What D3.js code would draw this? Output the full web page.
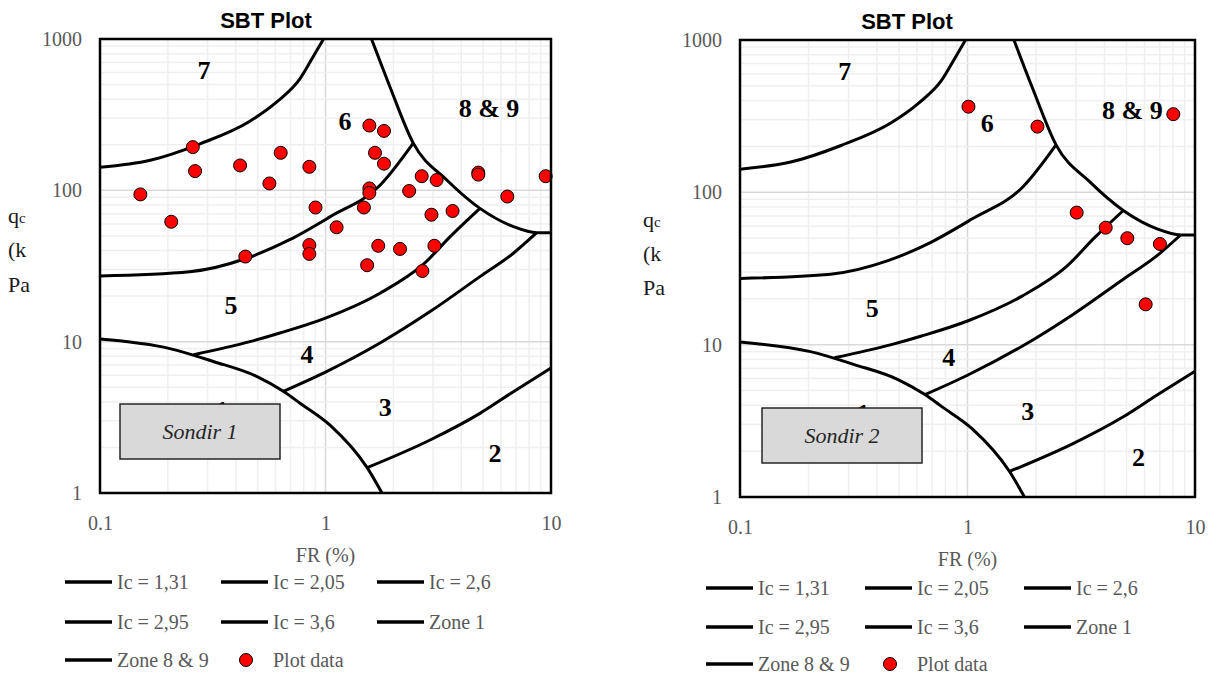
<!DOCTYPE html>
<html>
<head>
<meta charset="utf-8">
<script src="https://cdn.jsdelivr.net/npm/d3@7/dist/d3.min.js"></script>
<style>
  body { margin: 0; background: #fff; }
  svg { display: block; }
</style>
</head>
<body>
<div id="chart"></div>
<script>
// Axis ticks
const xTicks = [0.1, 1, 10];
const yTicks = [1, 10, 100, 1000];

// SBT boundary curves as [FR %, qc]
const ic131 = [[0.1, 142], [0.167, 158], [0.278, 203], [0.46, 285], [0.61, 385], [0.77, 545], [0.88, 760], [0.98, 1000]];
const ic205 = [[0.1, 27.2], [0.25, 29], [0.447, 35.6], [0.69, 47], [1.05, 67], [1.745, 108], [2.45, 205]];
const ic26 = [[0.26, 8.2], [0.462, 10], [0.628, 11.4], [1.0, 14.3], [1.745, 20.9], [2.72, 32.5], [3.6, 50], [4.84, 76]];
const ic295 = [[0.65, 4.7], [1.0, 6.3], [1.745, 9.8], [2.91, 15.8], [4.84, 26.9], [6.81, 38.4], [8.64, 52.5]];
const ic36 = [[1.53, 1.47], [2.91, 2.24], [4.84, 3.36], [6.81, 4.67], [10, 6.7]];
const zone1 = [[0.1, 10.4], [0.204, 9.0], [0.318, 7.4], [0.495, 5.9], [0.65, 4.7], [0.771, 3.92], [1.05, 2.8], [1.53, 1.47], [1.78, 1.0]];
const zone89 = [[1.6, 1000], [1.93, 484], [2.45, 205], [3.45, 117], [4.84, 76], [6.81, 57.6], [8.64, 52.5], [10, 52.5]];

const seriesNames = ['Ic = 1,31', 'Ic = 2,05', 'Ic = 2,6', 'Ic = 2,95', 'Ic = 3,6', 'Zone 1', 'Zone 8 & 9', 'Plot data'];
const curves = [ic131, ic205, ic26, ic295, ic36, zone1, zone89];

// zone numbers [text, FR, qc]
const zoneLabels = [['1', 0.347, 3.54], ['2', 5.65, 1.84], ['3', 1.84, 3.7], ['4', 0.828, 8.29],
  ['5', 0.381, 17.5], ['6', 1.22, 287], ['7', 0.289, 625], ['8 & 9', 5.31, 350]];

// measured points [FR %, qc]
const sondir1 = [[0.151, 94], [0.207, 62], [0.258, 193], [0.264, 134], [0.418, 146], [0.441, 36.5],
  [0.564, 111], [0.633, 177], [0.848, 143], [0.903, 77], [0.848, 43.5], [0.848, 38], [1.12, 57],
  [1.48, 77], [1.565, 268], [1.658, 177], [1.817, 247], [1.817, 150], [1.565, 103], [1.565, 96],
  [1.53, 32], [1.714, 43], [2.14, 41], [2.35, 99], [2.67, 124], [2.69, 29.3], [2.95, 69], [3.04, 43],
  [3.11, 117], [3.66, 73], [4.76, 131], [4.76, 127], [6.4, 91], [9.47, 124]];
const sondir2 = [[1.01, 365], [2.03, 270], [8.03, 326], [3.02, 73.6], [4.05, 58.6], [5.04, 50], [7.01, 45.8], [6.07, 18.4]];

const serif = "'Liberation Serif', 'Times New Roman', serif";
const sans = "'Liberation Sans', Arial, sans-serif";

const svg = d3.select('#chart').append('svg')
  .attr('width', 1215)
  .attr('height', 677);

const charts = [
  { id: 'c1', left: 100, top: 39, right: 551, bottom: 493, titleX: 266, titleY: 28,
    yTitleX: 8, yTitleY: [223, 257, 292], legendX: [65, 221, 377], legendY: [582, 622, 660],
    box: [120, 404, 160, 55], name: 'Sondir 1', points: sondir1 },
  { id: 'c2', left: 740, top: 40, right: 1195, bottom: 497, titleX: 907, titleY: 29,
    yTitleX: 643, yTitleY: [227, 261, 295], legendX: [706, 865, 1024], legendY: [588, 627, 664],
    box: [762, 408, 160, 55], name: 'Sondir 2', points: sondir2 }
];

charts.forEach(c => drawChart(c));

function drawChart(c) {
  const x = d3.scaleLog().domain([0.1, 10]).range([c.left, c.right]);
  const y = d3.scaleLog().domain([1, 1000]).range([c.bottom, c.top]);
  const g = svg.append('g');

  // grid lines (minor then major)
  const gridX = [], gridY = [];
  [0.1, 1].forEach(d => { for (let m = 1; m < 10; m++) gridX.push(d * m); });
  [1, 10, 100].forEach(d => { for (let m = 1; m < 10; m++) gridY.push(d * m); });
  g.append('g').selectAll('line').data(gridX).join('line')
    .attr('x1', d => x(d)).attr('x2', d => x(d))
    .attr('y1', c.top).attr('y2', c.bottom)
    .attr('stroke', (d, i) => i % 9 === 0 ? '#d9d9d9' : '#efefef')
    .attr('stroke-width', 1.5);
  g.append('g').selectAll('line').data(gridY).join('line')
    .attr('x1', c.left).attr('x2', c.right)
    .attr('y1', d => y(d)).attr('y2', d => y(d))
    .attr('stroke', (d, i) => i % 9 === 0 ? '#d9d9d9' : '#efefef')
    .attr('stroke-width', 1.5);

  // clip for the curves
  svg.append('clipPath').attr('id', 'clip-' + c.id)
    .append('rect')
    .attr('x', c.left).attr('y', c.top)
    .attr('width', c.right - c.left).attr('height', c.bottom - c.top);

  const line = d3.line()
    .x(d => x(d[0]))
    .y(d => y(d[1]))
    .curve(d3.curveMonotoneX);

  // zone numbers (the "1" sits mostly behind the text box, as in the original)
  g.append('g').selectAll('text').data(zoneLabels).join('text')
    .attr('x', d => x(d[1]))
    .attr('y', d => y(d[2]))
    .attr('dy', '0.35em')
    .attr('text-anchor', 'middle')
    .attr('font-family', serif)
    .attr('font-weight', 'bold')
    .attr('font-size', 26)
    .attr('fill', '#000')
    .text(d => d[0]);

  g.append('g').attr('clip-path', `url(#clip-${c.id})`)
    .selectAll('path').data(curves).join('path')
    .attr('d', line)
    .attr('fill', 'none')
    .attr('stroke', '#000')
    .attr('stroke-width', 3)
    .attr('stroke-linejoin', 'round');

  // text box
  g.append('rect')
    .attr('x', c.box[0]).attr('y', c.box[1])
    .attr('width', c.box[2]).attr('height', c.box[3])
    .attr('fill', '#d9d9d9')
    .attr('stroke', '#262626')
    .attr('stroke-width', 1.5);
  g.append('text')
    .attr('x', c.box[0] + c.box[2] / 2)
    .attr('y', c.box[1] + c.box[3] / 2)
    .attr('dy', '0.35em')
    .attr('text-anchor', 'middle')
    .attr('font-family', serif)
    .attr('font-style', 'italic')
    .attr('font-size', 22)
    .attr('fill', '#262626')
    .text(c.name);

  // data points
  g.append('g').selectAll('circle').data(c.points).join('circle')
    .attr('cx', d => x(d[0]))
    .attr('cy', d => y(d[1]))
    .attr('r', 6.5)
    .attr('fill', '#ff0000')
    .attr('stroke', '#000')
    .attr('stroke-width', 1);

  // plot border
  g.append('rect')
    .attr('x', c.left).attr('y', c.top)
    .attr('width', c.right - c.left).attr('height', c.bottom - c.top)
    .attr('fill', 'none')
    .attr('stroke', '#000')
    .attr('stroke-width', 2.5);

  // axes
  const yAxis = g.append('g')
    .attr('transform', `translate(${c.left},0)`)
    .call(d3.axisLeft(y).tickValues(yTicks).tickSize(0).tickPadding(18).tickFormat(d => String(d)));
  const xAxis = g.append('g')
    .attr('transform', `translate(0,${c.bottom})`)
    .call(d3.axisBottom(x).tickValues(xTicks).tickSize(0).tickFormat(d => String(d)));
  [yAxis, xAxis].forEach(a => {
    a.select('.domain').remove();
    a.selectAll('text')
      .attr('font-family', serif)
      .attr('font-size', 20)
      .attr('fill', '#595959');
  });
  xAxis.selectAll('text').attr('y', 30).attr('dy', '0.35em');

  // titles
  g.append('text')
    .attr('x', c.titleX).attr('y', c.titleY)
    .attr('text-anchor', 'middle')
    .attr('font-family', sans)
    .attr('font-weight', 'bold')
    .attr('font-size', 22)
    .attr('fill', '#000')
    .text('SBT Plot');

  g.append('text')
    .attr('x', (c.left + c.right) / 2)
    .attr('y', c.bottom + 62)
    .attr('dy', '0.35em')
    .attr('text-anchor', 'middle')
    .attr('font-family', serif)
    .attr('font-size', 20)
    .attr('fill', '#595959')
    .text('FR (%)');

  const yt = g.append('g')
    .attr('font-family', serif)
    .attr('font-size', 22)
    .attr('fill', '#1a1a1a');
  const q = yt.append('text').attr('x', c.yTitleX).attr('y', c.yTitleY[0]);
  q.append('tspan').text('q');
  q.append('tspan').attr('font-size', 15).text('c');
  yt.append('text').attr('x', c.yTitleX).attr('y', c.yTitleY[1]).text('(k');
  yt.append('text').attr('x', c.yTitleX).attr('y', c.yTitleY[2]).text('Pa');

  // legend
  const leg = g.append('g').selectAll('g').data(seriesNames).join('g')
    .attr('transform', (d, i) => `translate(${c.legendX[i % 3]},${c.legendY[Math.floor(i / 3)]})`);
  leg.filter(d => d !== 'Plot data').append('line')
    .attr('x1', 0).attr('x2', 47)
    .attr('stroke', '#000').attr('stroke-width', 3.5);
  leg.filter(d => d === 'Plot data').append('circle')
    .attr('cx', 25).attr('r', 6.5)
    .attr('fill', '#ff0000').attr('stroke', '#000').attr('stroke-width', 1);
  leg.append('text')
    .attr('x', 52)
    .attr('dy', '0.35em')
    .attr('font-family', serif)
    .attr('font-size', 20)
    .attr('fill', '#595959')
    .text(d => d);
}
</script>
</body>
</html>
